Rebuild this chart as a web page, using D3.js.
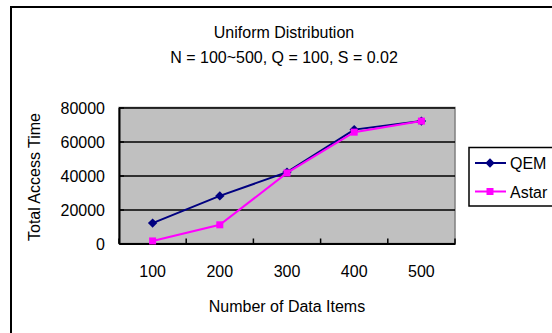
<!DOCTYPE html>
<html>
<head>
<meta charset="utf-8">
<script src="https://cdn.jsdelivr.net/npm/d3@7"></script>
<style>
  html, body { margin: 0; padding: 0; background: #fff; }
  svg { display: block; }
  text { font-family: "Liberation Sans", Arial, sans-serif; fill: #000; }
</style>
</head>
<body>
<script>
// Access-time comparison data
const categories = ["100", "200", "300", "400", "500"];
const qemValues = [12000, 28000, 42000, 67000, 72000];
const astarValues = [1500, 11000, 41500, 65500, 72000];
const yTicks = [0, 20000, 40000, 60000, 80000];
const seriesNames = ["QEM", "Astar"];
const titleLines = ["Uniform Distribution", "N = 100~500, Q = 100, S = 0.02"];

const W = 552, H = 333;
const plot = { left: 119, right: 455, top: 107.5, bottom: 243.5 };
const fontSize = 16;
const stretch = "scale(1,1.08)";   // text is drawn slightly tall

const svg = d3.select("body").append("svg")
  .attr("width", W).attr("height", H);

// outer chart frame (runs past the right and bottom edges)
svg.append("rect")
  .attr("x", 11).attr("y", 7)
  .attr("width", 560).attr("height", 340)
  .attr("fill", "#fff").attr("stroke", "#000").attr("stroke-width", 2);

const x = d3.scaleBand().domain(categories).range([plot.left, plot.right]).padding(0);
const y = d3.scaleLinear().domain([0, 80000]).range([plot.bottom, plot.top]);

// plot background
svg.append("rect")
  .attr("x", plot.left).attr("y", plot.top)
  .attr("width", plot.right - plot.left).attr("height", plot.bottom - plot.top)
  .attr("fill", "#c0c0c0").attr("stroke", "#808080").attr("stroke-width", 1.5);

// horizontal gridlines
const grid = svg.append("g")
  .attr("transform", `translate(${plot.left},0)`)
  .call(d3.axisRight(y).tickValues(yTicks.filter(v => v > 0)).tickSize(plot.right - plot.left).tickFormat(""));
grid.select(".domain").remove();
grid.selectAll("line").attr("stroke", "#000").attr("stroke-width", 1.5);

// y axis
const yAxis = svg.append("g")
  .attr("transform", `translate(${plot.left},0)`)
  .call(d3.axisLeft(y).tickValues(yTicks).tickSizeInner(-5).tickSizeOuter(0).tickPadding(14).tickFormat(d3.format("d")));
yAxis.select(".domain").attr("stroke", "#000").attr("stroke-width", 2);
yAxis.selectAll("line").attr("stroke", "#000").attr("stroke-width", 1.5);
yAxis.selectAll("text").attr("font-size", fontSize).attr("transform", stretch)
  .style("font-family", "'Liberation Sans', Arial, sans-serif");

// x axis: labels centred on categories
const xAxis = svg.append("g")
  .attr("transform", `translate(0,${plot.bottom})`)
  .call(d3.axisBottom(x).tickSize(0).tickPadding(20));
xAxis.select(".domain").attr("stroke", "#000").attr("stroke-width", 2);
xAxis.selectAll("text").attr("font-size", fontSize).attr("transform", stretch)
  .style("font-family", "'Liberation Sans', Arial, sans-serif");

// x tick marks on category boundaries, pointing into the plot
const boundaries = categories.map(c => x(c)).concat([x(categories[categories.length - 1]) + x.bandwidth()]);
svg.append("g").selectAll("line").data(boundaries).join("line")
  .attr("x1", d => d).attr("x2", d => d)
  .attr("y1", plot.bottom).attr("y2", plot.bottom - 5)
  .attr("stroke", "#000").attr("stroke-width", 1.5);

// series lines and markers
const cx = c => x(c) + x.bandwidth() / 2;
const line = d3.line().x(d => cx(d.c)).y(d => y(d.v));
const qem = categories.map((c, i) => ({ c, v: qemValues[i] }));
const astar = categories.map((c, i) => ({ c, v: astarValues[i] }));

svg.append("path").datum(qem).attr("d", line)
  .attr("fill", "none").attr("stroke", "#000080").attr("stroke-width", 2);
svg.append("g").selectAll("path").data(qem).join("path")
  .attr("d", d3.symbol(d3.symbolDiamond2, 56))
  .attr("transform", d => `translate(${cx(d.c)},${y(d.v)})`)
  .attr("fill", "#000080");

svg.append("path").datum(astar).attr("d", line)
  .attr("fill", "none").attr("stroke", "#ff00ff").attr("stroke-width", 2);
svg.append("g").selectAll("rect").data(astar).join("rect")
  .attr("x", d => cx(d.c) - 3.5).attr("y", d => y(d.v) - 3.5)
  .attr("width", 7).attr("height", 7)
  .attr("fill", "#ff00ff");

// free-standing text helper
function label(tx, ty, str, rotate) {
  return svg.append("text")
    .attr("transform", `translate(${tx},${ty})${rotate ? " rotate(-90)" : ""} ${stretch}`)
    .attr("text-anchor", "middle").attr("font-size", fontSize).text(str);
}

label(284, 38, titleLines[0]);
label(284, 63, titleLines[1]);
label((plot.left + plot.right) / 2, 312, "Number of Data Items");
label(40, 177, "Total Access Time", true);

// legend
const lg = svg.append("g");
lg.append("rect").attr("x", 469).attr("y", 147.5).attr("width", 100).attr("height", 58.5)
  .attr("fill", "#fff").attr("stroke", "#000").attr("stroke-width", 1.5);
const legendItems = [
  { name: seriesNames[0], color: "#000080", y: 163, marker: "diamond" },
  { name: seriesNames[1], color: "#ff00ff", y: 191.5, marker: "square" }
];
legendItems.forEach(it => {
  lg.append("line").attr("x1", 475).attr("x2", 506).attr("y1", it.y).attr("y2", it.y)
    .attr("stroke", it.color).attr("stroke-width", 2);
  if (it.marker === "diamond") {
    lg.append("path").attr("d", d3.symbol(d3.symbolDiamond2, 56))
      .attr("transform", `translate(490,${it.y})`).attr("fill", it.color);
  } else {
    lg.append("rect").attr("x", 486.5).attr("y", it.y - 3.5).attr("width", 7).attr("height", 7)
      .attr("fill", it.color);
  }
  lg.append("text").attr("transform", `translate(510,${it.y + 6}) ${stretch}`)
    .attr("font-size", fontSize).text(it.name);
});
</script>
</body>
</html>
